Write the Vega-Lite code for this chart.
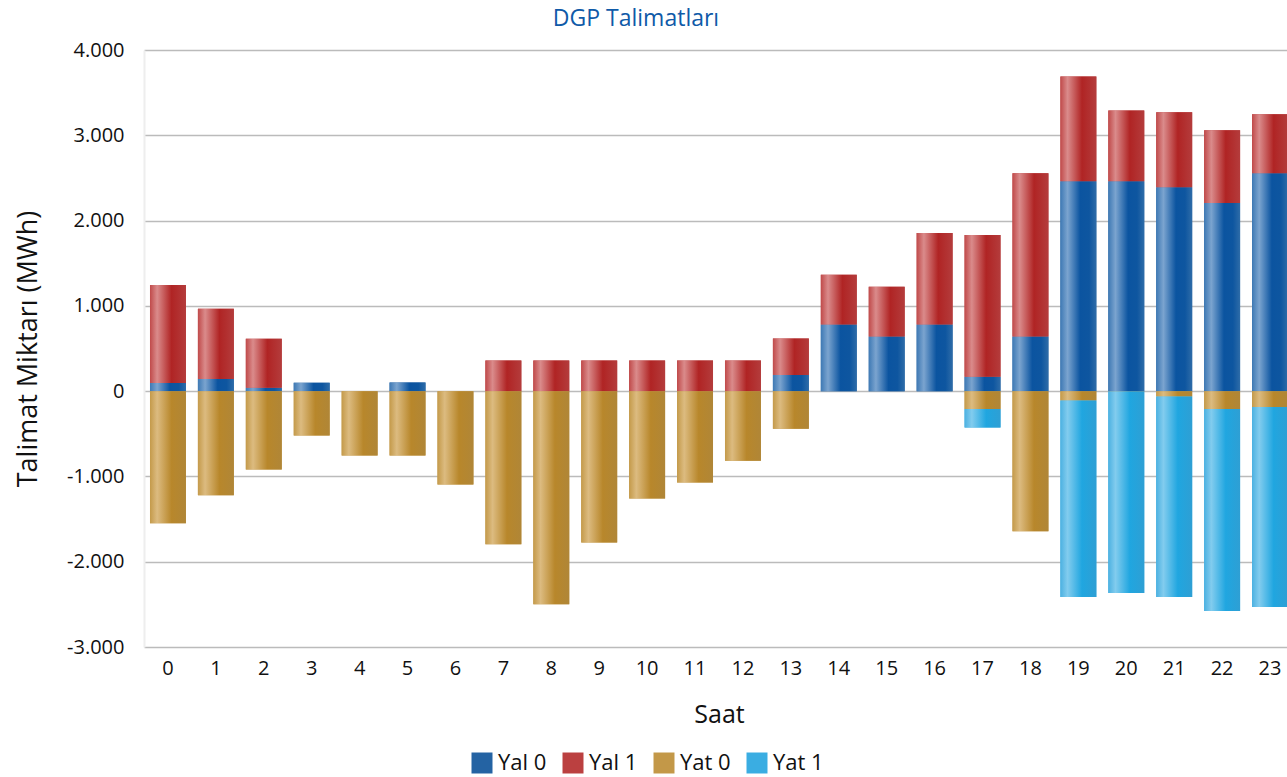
{
  "$schema": "https://vega.github.io/schema/vega-lite/v6.json",
  "autosize": {"type": "none"},
  "width": 1150,
  "height": 597,
  "padding": {"left": 144, "top": 50, "right": 0, "bottom": 130},
  "background": "white",
  "config": {
    "font": "Open Sans",
    "view": {"stroke": null}
  },
  "title": {
    "text": "DGP Talimatları",
    "fontSize": 23,
    "fontWeight": "normal",
    "color": "#0f5aa8",
    "anchor": "middle",
    "dx": -83,
    "offset": 9
  },
  "data": {
    "values": [
      {"saat": 0, "seri": "Yal 0", "deger": 96},
      {"saat": 0, "seri": "Yal 1", "deger": 1150},
      {"saat": 0, "seri": "Yat 0", "deger": -1550},
      {"saat": 1, "seri": "Yal 0", "deger": 143},
      {"saat": 1, "seri": "Yal 1", "deger": 822},
      {"saat": 1, "seri": "Yat 0", "deger": -1222},
      {"saat": 2, "seri": "Yal 0", "deger": 41},
      {"saat": 2, "seri": "Yal 1", "deger": 573},
      {"saat": 2, "seri": "Yat 0", "deger": -918},
      {"saat": 3, "seri": "Yal 0", "deger": 99},
      {"saat": 3, "seri": "Yat 0", "deger": -520},
      {"saat": 4, "seri": "Yat 0", "deger": -754},
      {"saat": 5, "seri": "Yal 0", "deger": 100},
      {"saat": 5, "seri": "Yat 0", "deger": -754},
      {"saat": 6, "seri": "Yat 0", "deger": -1095},
      {"saat": 7, "seri": "Yal 1", "deger": 360},
      {"saat": 7, "seri": "Yat 0", "deger": -1795},
      {"saat": 8, "seri": "Yal 1", "deger": 360},
      {"saat": 8, "seri": "Yat 0", "deger": -2500},
      {"saat": 9, "seri": "Yal 1", "deger": 360},
      {"saat": 9, "seri": "Yat 0", "deger": -1775},
      {"saat": 10, "seri": "Yal 1", "deger": 360},
      {"saat": 10, "seri": "Yat 0", "deger": -1260},
      {"saat": 11, "seri": "Yal 1", "deger": 360},
      {"saat": 11, "seri": "Yat 0", "deger": -1070},
      {"saat": 12, "seri": "Yal 1", "deger": 360},
      {"saat": 12, "seri": "Yat 0", "deger": -815},
      {"saat": 13, "seri": "Yal 0", "deger": 190},
      {"saat": 13, "seri": "Yal 1", "deger": 428},
      {"saat": 13, "seri": "Yat 0", "deger": -440},
      {"saat": 14, "seri": "Yal 0", "deger": 780},
      {"saat": 14, "seri": "Yal 1", "deger": 585},
      {"saat": 15, "seri": "Yal 0", "deger": 640},
      {"saat": 15, "seri": "Yal 1", "deger": 585},
      {"saat": 16, "seri": "Yal 0", "deger": 780},
      {"saat": 16, "seri": "Yal 1", "deger": 1075},
      {"saat": 17, "seri": "Yal 0", "deger": 170},
      {"saat": 17, "seri": "Yal 1", "deger": 1660},
      {"saat": 17, "seri": "Yat 0", "deger": -208},
      {"saat": 17, "seri": "Yat 1", "deger": -219},
      {"saat": 18, "seri": "Yal 0", "deger": 640},
      {"saat": 18, "seri": "Yal 1", "deger": 1916},
      {"saat": 18, "seri": "Yat 0", "deger": -1643},
      {"saat": 19, "seri": "Yal 0", "deger": 2462},
      {"saat": 19, "seri": "Yal 1", "deger": 1228},
      {"saat": 19, "seri": "Yat 0", "deger": -111},
      {"saat": 19, "seri": "Yat 1", "deger": -2304},
      {"saat": 20, "seri": "Yal 0", "deger": 2462},
      {"saat": 20, "seri": "Yal 1", "deger": 830},
      {"saat": 20, "seri": "Yat 0", "deger": -3},
      {"saat": 20, "seri": "Yat 1", "deger": -2363},
      {"saat": 21, "seri": "Yal 0", "deger": 2392},
      {"saat": 21, "seri": "Yal 1", "deger": 877},
      {"saat": 21, "seri": "Yat 0", "deger": -64},
      {"saat": 21, "seri": "Yat 1", "deger": -2351},
      {"saat": 22, "seri": "Yal 0", "deger": 2205},
      {"saat": 22, "seri": "Yal 1", "deger": 853},
      {"saat": 22, "seri": "Yat 0", "deger": -208},
      {"saat": 22, "seri": "Yat 1", "deger": -2371},
      {"saat": 23, "seri": "Yal 0", "deger": 2556},
      {"saat": 23, "seri": "Yal 1", "deger": 690},
      {"saat": 23, "seri": "Yat 0", "deger": -185},
      {"saat": 23, "seri": "Yat 1", "deger": -2347}
    ]
  },
  "encoding": {
    "x": {
      "field": "saat",
      "type": "ordinal",
      "title": "Saat",
      "scale": {"paddingInner": 0.25, "paddingOuter": 0.125},
      "axis": {
        "labelAngle": 0,
        "labelFontSize": 20,
        "labelColor": "#111",
        "labelPadding": 11,
        "ticks": false,
        "domain": false,
        "titleFontSize": 25,
        "titleFontWeight": "normal",
        "titleColor": "#111",
        "titlePadding": 24
      }
    },
    "y": {
      "field": "deger",
      "type": "quantitative",
      "stack": "zero",
      "title": "Talimat Miktarı (MWh)",
      "scale": {"domain": [-3000, 4000], "nice": false},
      "axis": {
        "values": [-3000, -2000, -1000, 0, 1000, 2000, 3000, 4000],
        "labelExpr": "(datum.value < 0 ? '-' : '') + replace(format(abs(datum.value), ','), ',', '.')",
        "labelFontSize": 20,
        "labelColor": "#111",
        "labelPadding": 20,
        "ticks": false,
        "domain": true,
        "domainColor": "#eeeeee",
        "domainWidth": 2,
        "gridColor": "#bbbbbb",
        "gridWidth": 1.5,
        "titleFontSize": 27,
        "titleFontWeight": "normal",
        "titleColor": "#111",
        "titlePadding": 24
      }
    },
    "order": {"field": "seri", "type": "ordinal", "sort": "ascending"}
  },
  "layer": [
    {
      "mark": {"type": "bar", "strokeWidth": 0},
      "encoding": {
        "color": {
          "field": "seri",
          "type": "nominal",
          "title": null,
          "scale": {
            "domain": ["Yal 0", "Yal 1", "Yat 0", "Yat 1"],
            "range": ["#2463a3", "#bb4040", "#c39848", "#3aade2"]
          },
          "legend": {
            "orient": "none",
            "direction": "horizontal",
            "legendX": 327,
            "legendY": 702,
            "symbolType": "square",
            "symbolSize": 441,
            "symbolStrokeWidth": 0,
            "symbolOpacity": 1,
            "labelFontSize": 22,
            "labelColor": "#111",
            "labelOffset": 5,
            "columnPadding": 15
          }
        }
      }
    },
    {
      "mark": {
        "type": "bar",
        "strokeWidth": 0,
        "fill": {"expr": "datum.seri === 'Yal 0' ? {gradient:'linear', x1:0, y1:0, x2:1, y2:0, stops:[{offset:0,color:'#3e79b4'},{offset:0.2,color:'#7ba4cf'},{offset:0.55,color:'#0b54a0'},{offset:0.8,color:'#0e56a0'},{offset:1,color:'#2e6ca8'}]} : datum.seri === 'Yal 1' ? {gradient:'linear', x1:0, y1:0, x2:1, y2:0, stops:[{offset:0,color:'#c04a4a'},{offset:0.2,color:'#da8b8b'},{offset:0.6,color:'#b02424'},{offset:1,color:'#b43c3c'}]} : datum.seri === 'Yat 0' ? {gradient:'linear', x1:0, y1:0, x2:1, y2:0, stops:[{offset:0,color:'#c49a4a'},{offset:0.2,color:'#dcbb80'},{offset:0.6,color:'#b8872b'},{offset:1,color:'#b08637'}]} : {gradient:'linear', x1:0, y1:0, x2:1, y2:0, stops:[{offset:0,color:'#4cb1e1'},{offset:0.2,color:'#82ccee'},{offset:0.6,color:'#20a6e0'},{offset:1,color:'#2e9fd4'}]}"}
      },
      "encoding": {
        "detail": {"field": "seri", "type": "nominal"}
      }
    }
  ]
}
